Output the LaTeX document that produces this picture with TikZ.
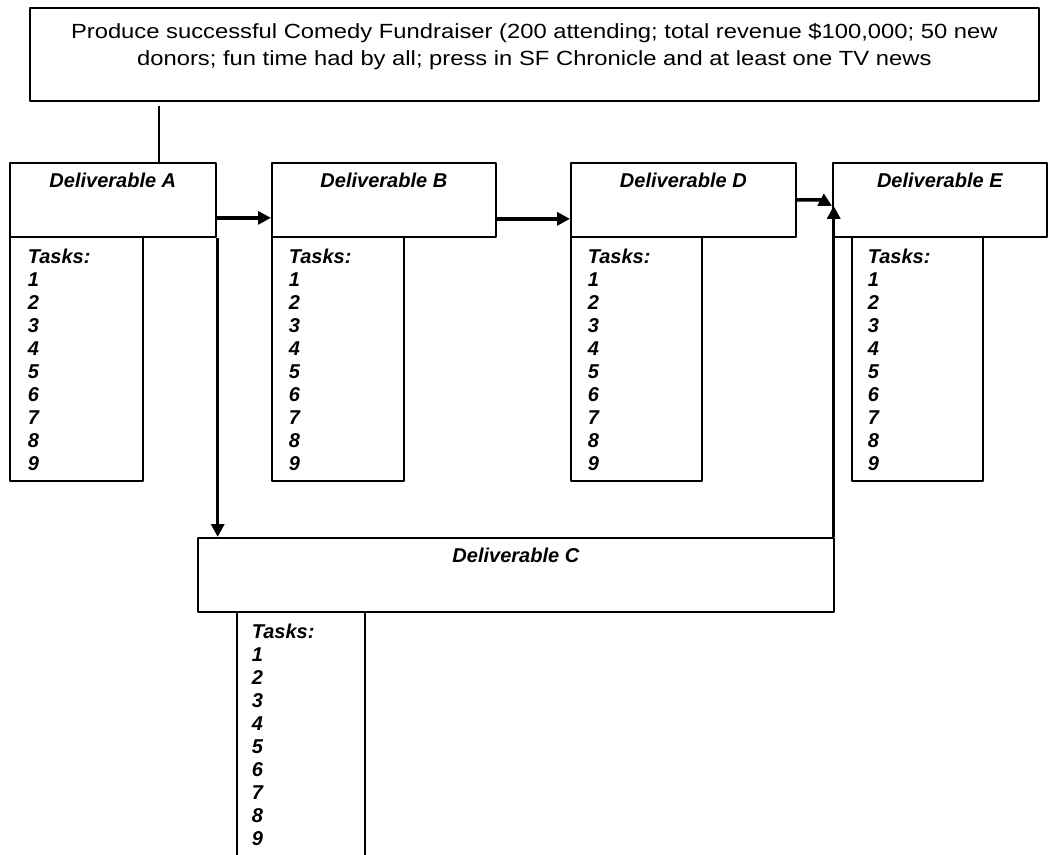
\documentclass[tikz,border=0pt]{standalone}
\usepackage{fontspec}
\setmainfont{Liberation Sans}
\newfontfamily\goalfont[FakeStretch=1.16]{Liberation Sans}
\usetikzlibrary{positioning}
\usetikzlibrary{arrows.meta}
\tikzstyle{every node}=[font=\fontsize{20}{23}\selectfont\bfseries\itshape]
\tikzstyle{delbox}=[draw,anchor=north west,minimum height=74pt,inner sep=0pt]
\tikzstyle{taskbox}=[draw,anchor=north west,minimum height=244pt,inner sep=0pt]
\tikzstyle{deltitle}=[inner sep=0pt]
\tikzstyle{tasklist}=[align=left,inner sep=0pt]
\tikzstyle{flow}=[line width=3.4pt,-{Triangle[length=13pt,width=13pt]}]
\newcommand{\tasklines}{Tasks:\\1\\2\\3\\4\\5\\6\\7\\8\\9}

\begin{document}
\begin{tikzpicture}[x=1pt,y=-1pt,line width=1.7pt,line join=round]
\useasboundingbox (0,0) rectangle (1049,854);
\fill[white] (0,0) rectangle (1049,854);
\clip (0,0) rectangle (1049,854);
% goal
\node[draw,anchor=north west,minimum width=1009pt,minimum height=93pt,inner sep=0pt] (goal) at (29,7) {};
\node[inner sep=0pt,align=center,font=\goalfont\fontsize{20.5}{27}\selectfont,below=15pt of goal.north] (goaltext)
{Produce successful Comedy Fundraiser (200 attending; total revenue \$100,000; 50 new\\
donors; fun time had by all; press in SF Chronicle and at least one TV news};
% deliverables
\node[delbox,minimum width=206pt] (A) at (9,162) {};
\node[delbox,minimum width=224pt] (B) at (271,162) {};
\node[delbox,minimum width=225pt] (D) at (570,162) {};
\node[delbox,minimum width=214pt] (E) at (832,162) {};
\node[delbox,minimum width=636pt] (C) at (197,537) {};
\node[deltitle,below=10pt of A.north] (Atitle) {Deliverable A};
\node[deltitle,below=10pt of B.north] (Btitle) {Deliverable B};
\node[deltitle,below=10pt of D.north] (Dtitle) {Deliverable D};
\node[deltitle,below=10pt of E.north] (Etitle) {Deliverable E};
\node[deltitle,below=10pt of C.north] (Ctitle) {Deliverable C};
% tasks
\node[taskbox,minimum width=133pt] (Atask) at (9,236) {};
\node[taskbox,minimum width=132pt] (Btask) at (271,236) {};
\node[taskbox,minimum width=131pt] (Dtask) at (570,236) {};
\node[taskbox,minimum width=131pt] (Etask) at (851,236) {};
\node[taskbox,minimum width=128pt,minimum height=260pt] (Ctask) at (236,611) {};
\node[tasklist,below right=12pt and 18pt of Atask.north west] (Alist) {\tasklines};
\node[tasklist,below right=12pt and 17pt of Btask.north west] (Blist) {\tasklines};
\node[tasklist,below right=12pt and 17pt of Dtask.north west] (Dlist) {\tasklines};
\node[tasklist,below right=12pt and 16pt of Etask.north west] (Elist) {\tasklines};
\node[tasklist,below right=12pt and 15pt of Ctask.north west] (Clist) {\tasklines};
% connectors
\coordinate (stem) at (159,106);
\draw (stem) -- (stem |- A.north);
\coordinate (Ein) at ([yshift=-6pt]E.west);
\draw[flow] ([yshift=-18pt]A.east) -- ([yshift=-18pt]B.west);
\draw[flow] ([yshift=-19pt]B.east) -- ([yshift=-19pt]D.west);
\draw[flow] (D.east) -- ++(24pt,0) -- (Ein);
\draw[flow] ([xshift=1pt]A.south east) -- ([xshift=1pt]A.south east |- C.north);
\draw[flow] ([xshift=-1pt]C.north east) -- ([xshift=-1pt]C.north east |- Ein);
\end{tikzpicture}
\end{document}
